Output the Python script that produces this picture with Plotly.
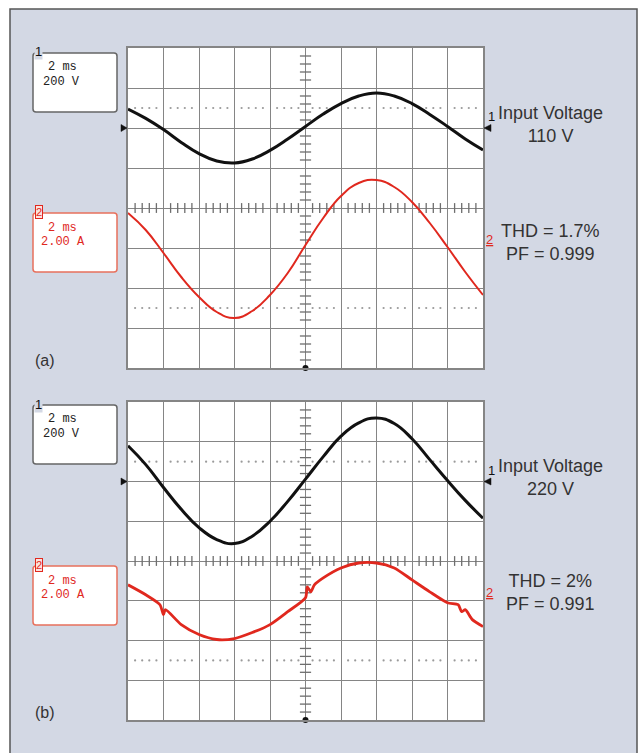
import plotly.graph_objects as go

W, H = 640, 753

# ---------------- data (read from the scope captures) ----------------
# time axis: 2 ms/div, 10 divisions
time_ms = [0, 1, 2, 3, 4, 5, 6, 7, 8, 9, 10, 11, 12, 13, 14, 15, 16, 17, 18, 19, 20]

# panel (a): 110 V input
volt_a = [95, 48, -8, -72, -128, -165, -175, -155, -112, -55, 8,
          70, 122, 160, 175, 160, 122, 68, 8, -55, -110]
curr_a = [1.75, 0.9, -0.25, -1.45, -2.45, -3.2, -3.5, -3.15, -2.35, -1.25, 0.15,
          1.5, 2.6, 3.25, 3.4, 3.05, 2.3, 1.25, 0.05, -1.2, -2.35]

# panel (b): 220 V input
volt_b = [180, 85, -30, -140, -232, -292, -312, -275, -200, -100, 12,
          125, 228, 295, 320, 292, 215, 110, 5, -95, -185]
time_b_cur = [0, 1, 1.8, 2.0, 2.1, 3, 4, 5, 6, 7, 8, 9, 10, 10.1, 10.3, 10.5, 11,
              12, 13, 14, 15, 16, 17, 18, 18.6, 18.8, 19.0, 19.4, 20]
curr_b = [0.8, 0.3, -0.2, -0.7, -0.45, -1.2, -1.7, -1.95, -1.9, -1.6, -1.2, -0.55,
          0.15, 0.7, 0.45, 0.8, 1.15, 1.65, 1.9, 1.9, 1.65, 1.05, 0.45, -0.1,
          -0.2, -0.55, -0.45, -0.95, -1.3]

# scope settings / labels
ch1_scale = ["2 ms", "200 V"]
ch2_scale = ["2 ms", "2.00 A"]
panel_tags = ["(a)", "(b)"]
input_labels = ["Input Voltage<br>110 V", "Input Voltage<br>220 V"]
quality_labels = ["THD = 1.7%<br>PF = 0.999", "THD = 2%<br>PF = 0.991"]

V_PER_DIV = 200.0
A_PER_DIV = 2.0
CH1_OFFSET_DIV = 2    # ground of channel 1, divisions above centre
CH2_OFFSET_DIV = -1   # ground of channel 2

# ---------------- styling ----------------
BG = "#d3d8e4"
GRID = "#858585"
RED = "#e0281e"
BOXRED = "#e8705c"
TXT = "#333333"


def px(x):
    return x / W


def py(y):
    return 1 - y / H


PLOT_L, PLOT_R = 128, 483
PANEL_PIX = [(48, 368), (402, 720)]   # top, bottom pixel rows of each graticule
X_DOM = [px(PLOT_L), px(PLOT_R)]
Y_DOMS = [[py(b), py(t)] for t, b in PANEL_PIX]


def div_to_pix(i, d):
    t, b = PANEL_PIX[i]
    return t + (4 - d) * (b - t) / 8.0


fig = go.Figure()

# minor-tick / dot positions derived from the graticule
minor_y = [k * 0.2 for k in range(-20, 21) if k % 5 != 0]
minor_x = [k * 0.4 for k in range(1, 50) if k % 5 != 0]

for i in range(2):
    xa = "x" if i == 0 else "x2"
    ya_div = "y" if i == 0 else "y2"
    ya_v = "y3" if i == 0 else "y4"
    ya_i = "y5" if i == 0 else "y6"

    # dotted graticule lines at +/-2.5 div
    for yy in (2.5, -2.5):
        fig.add_trace(go.Scatter(x=minor_x, y=[yy] * len(minor_x), xaxis=xa, yaxis=ya_div,
                                 mode="markers", marker=dict(size=2.2, color="#9a9a9a"),
                                 hoverinfo="skip"))
    # centre-line minor ticks
    fig.add_trace(go.Scatter(x=[10] * len(minor_y), y=minor_y, xaxis=xa, yaxis=ya_div,
                             mode="markers",
                             marker=dict(symbol="line-ew", size=8,
                                         line=dict(color="#6e6e6e", width=1.3)),
                             hoverinfo="skip"))
    fig.add_trace(go.Scatter(x=minor_x, y=[0] * len(minor_x), xaxis=xa, yaxis=ya_div,
                             mode="markers",
                             marker=dict(symbol="line-ns", size=7,
                                         line=dict(color="#6e6e6e", width=1.3)),
                             hoverinfo="skip"))

    # waveforms
    if i == 0:
        tv, vv, ti, ii = time_ms, volt_a, time_ms, curr_a
        rw, sm = 2.0, 1.3
    else:
        tv, vv, ti, ii = time_ms, volt_b, time_b_cur, curr_b
        rw, sm = 2.8, 0.7
    fig.add_trace(go.Scatter(x=tv, y=vv, xaxis=xa, yaxis=ya_v, mode="lines",
                             line=dict(color="#111111", width=3, shape="spline", smoothing=1.3),
                             hoverinfo="skip"))
    fig.add_trace(go.Scatter(x=ti, y=ii, xaxis=xa, yaxis=ya_i, mode="lines",
                             line=dict(color=RED, width=rw, shape="spline", smoothing=sm),
                             hoverinfo="skip"))

    # trigger dot at the bottom of the centre line
    fig.add_trace(go.Scatter(x=[10], y=[-4], xaxis=xa, yaxis=ya_div,
                             mode="markers", cliponaxis=False,
                             marker=dict(symbol="circle", size=6, color="#111"),
                             hoverinfo="skip"))

axis_common = dict(showgrid=True, gridcolor=GRID, gridwidth=1.4, showline=True,
                   mirror=True, linecolor=GRID, linewidth=1.6, zeroline=False,
                   showticklabels=False, ticks="", fixedrange=True)

layout = dict(
    width=W, height=H, margin=dict(l=0, r=0, t=0, b=0),
    paper_bgcolor=BG, plot_bgcolor="white", showlegend=False, hovermode=False,
    xaxis=dict(domain=X_DOM, range=[0, 20], dtick=2, tick0=0, anchor="y", **axis_common),
    yaxis=dict(domain=Y_DOMS[0], range=[-4, 4], dtick=1, tick0=0, anchor="x", **axis_common),
    xaxis2=dict(domain=X_DOM, range=[0, 20], dtick=2, tick0=0, anchor="y2", **axis_common),
    yaxis2=dict(domain=Y_DOMS[1], range=[-4, 4], dtick=1, tick0=0, anchor="x2", **axis_common),
    yaxis3=dict(overlaying="y", anchor="x", visible=False, fixedrange=True,
                range=[(-4 - CH1_OFFSET_DIV) * V_PER_DIV, (4 - CH1_OFFSET_DIV) * V_PER_DIV]),
    yaxis5=dict(overlaying="y", anchor="x", visible=False, fixedrange=True,
                range=[(-4 - CH2_OFFSET_DIV) * A_PER_DIV, (4 - CH2_OFFSET_DIV) * A_PER_DIV]),
    yaxis4=dict(overlaying="y2", anchor="x2", visible=False, fixedrange=True,
                range=[(-4 - CH1_OFFSET_DIV) * V_PER_DIV, (4 - CH1_OFFSET_DIV) * V_PER_DIV]),
    yaxis6=dict(overlaying="y2", anchor="x2", visible=False, fixedrange=True,
                range=[(-4 - CH2_OFFSET_DIV) * A_PER_DIV, (4 - CH2_OFFSET_DIV) * A_PER_DIV]),
)
fig.update_layout(**layout)

shapes = []
# white margin around the framed panel + frame
shapes.append(dict(type="rect", xref="paper", yref="paper", x0=0, x1=px(10), y0=0, y1=1,
                   fillcolor="white", line=dict(width=0), layer="below"))
shapes.append(dict(type="rect", xref="paper", yref="paper", x0=0, x1=1, y0=py(9), y1=1,
                   fillcolor="white", line=dict(width=0), layer="below"))
shapes.append(dict(type="rect", xref="paper", yref="paper", x0=px(637), x1=1, y0=0, y1=1,
                   fillcolor="white", line=dict(width=0), layer="below"))
shapes.append(dict(type="path", xref="paper", yref="paper",
                   path=f"M {px(10)},{py(770)} L {px(10)},{py(9)} L {px(637)},{py(9)} L {px(637)},{py(770)}",
                   line=dict(color="#555555", width=1.5), layer="below"))


def rounded_box(x0, y0, x1, y1, color, r=3):
    rx, ry = r / W, r / H
    X0, X1, Y0, Y1 = px(x0), px(x1), py(y1), py(y0)
    p = (f"M {X0+rx},{Y1} L {X1-rx},{Y1} Q {X1},{Y1} {X1},{Y1-ry} "
         f"L {X1},{Y0+ry} Q {X1},{Y0} {X1-rx},{Y0} L {X0+rx},{Y0} "
         f"Q {X0},{Y0} {X0},{Y0+ry} L {X0},{Y1-ry} Q {X0},{Y1} {X0+rx},{Y1} Z")
    return dict(type="path", xref="paper", yref="paper", path=p, fillcolor="white",
                line=dict(color=color, width=1.5), layer="above")


def triangle(tip_x, base_x, yc, half=3.5):
    p = (f"M {px(tip_x)},{py(yc)} L {px(base_x)},{py(yc - half)} "
         f"L {px(base_x)},{py(yc + half)} Z")
    return dict(type="path", xref="paper", yref="paper", path=p, fillcolor="#111",
                line=dict(color="#111", width=0.5), layer="above")


box1_tops = [53, 405]
box2_tops = [213, 566]
for i in range(2):
    shapes.append(rounded_box(33, box1_tops[i], 117, box1_tops[i] + 59, "#666666"))
    shapes.append(rounded_box(33, box2_tops[i], 117, box2_tops[i] + 59, BOXRED))
    g1 = div_to_pix(i, CH1_OFFSET_DIV)
    shapes.append(triangle(PLOT_L - 1, PLOT_L - 7, g1))
    shapes.append(triangle(PLOT_R + 1, PLOT_R + 8, g1))
fig.update_layout(shapes=shapes)

ann = []
MONO = "Liberation Mono"
SANS = "Liberation Sans"
right_y = [[125, 243], [477, 592]]
for i in range(2):
    b1, b2 = box1_tops[i], box2_tops[i]
    g1 = div_to_pix(i, CH1_OFFSET_DIV)
    g2 = div_to_pix(i, CH2_OFFSET_DIV)
    # channel 1 box
    ann.append(dict(xref="paper", yref="paper", x=px(38), y=py(b1 - 1), text="1",
                    showarrow=False, font=dict(family=SANS, size=13, color="#111"),
                    xanchor="center", yanchor="middle", bgcolor=BG, borderpad=0))
    ann.append(dict(xref="paper", yref="paper", x=px(62), y=py(b1 + 14), text=ch1_scale[0],
                    showarrow=False, font=dict(family=MONO, size=12, color="#222"),
                    xanchor="center", yanchor="middle"))
    ann.append(dict(xref="paper", yref="paper", x=px(61), y=py(b1 + 29), text=ch1_scale[1],
                    showarrow=False, font=dict(family=MONO, size=12, color="#222"),
                    xanchor="center", yanchor="middle"))
    # channel 2 box
    ann.append(dict(xref="paper", yref="paper", x=px(39), y=py(b2 - 1), text="2",
                    showarrow=False, font=dict(family=SANS, size=11, color=RED),
                    xanchor="center", yanchor="middle", bgcolor="#fbe3de",
                    bordercolor=RED, borderwidth=1, borderpad=0))
    ann.append(dict(xref="paper", yref="paper", x=px(62), y=py(b2 + 15), text=ch2_scale[0],
                    showarrow=False, font=dict(family=MONO, size=12, color=RED),
                    xanchor="center", yanchor="middle"))
    ann.append(dict(xref="paper", yref="paper", x=px(63), y=py(b2 + 29), text=ch2_scale[1],
                    showarrow=False, font=dict(family=MONO, size=12, color=RED),
                    xanchor="center", yanchor="middle"))
    # channel ground labels at the right edge
    ann.append(dict(xref="paper", yref="paper", x=px(PLOT_R + 3), y=py(g1 - 2), text="1",
                    showarrow=False, font=dict(family=SANS, size=13, color="#111"),
                    xanchor="left", yanchor="bottom"))
    ann.append(dict(xref="paper", yref="paper", x=px(PLOT_R + 1), y=py(g2 + 1), text="<u>2</u>",
                    showarrow=False, font=dict(family=SANS, size=13, color=RED),
                    xanchor="left", yanchor="bottom"))
    # panel tag
    ann.append(dict(xref="paper", yref="paper", x=px(33), y=py([360, 712][i]), text=panel_tags[i],
                    showarrow=False, font=dict(family=SANS, size=16, color=TXT),
                    xanchor="left", yanchor="middle"))
    # right-hand captions
    ann.append(dict(xref="paper", yref="paper", x=px(550), y=py(right_y[i][0]), text=input_labels[i],
                    showarrow=False, font=dict(family=SANS, size=18, color=TXT),
                    xanchor="center", yanchor="middle", align="center"))
    ann.append(dict(xref="paper", yref="paper", x=px(550), y=py(right_y[i][1]), text=quality_labels[i],
                    showarrow=False, font=dict(family=SANS, size=18, color=TXT),
                    xanchor="center", yanchor="middle", align="center"))
fig.update_layout(annotations=ann)

fig.write_html("out.html", config={"displayModeBar": False})
